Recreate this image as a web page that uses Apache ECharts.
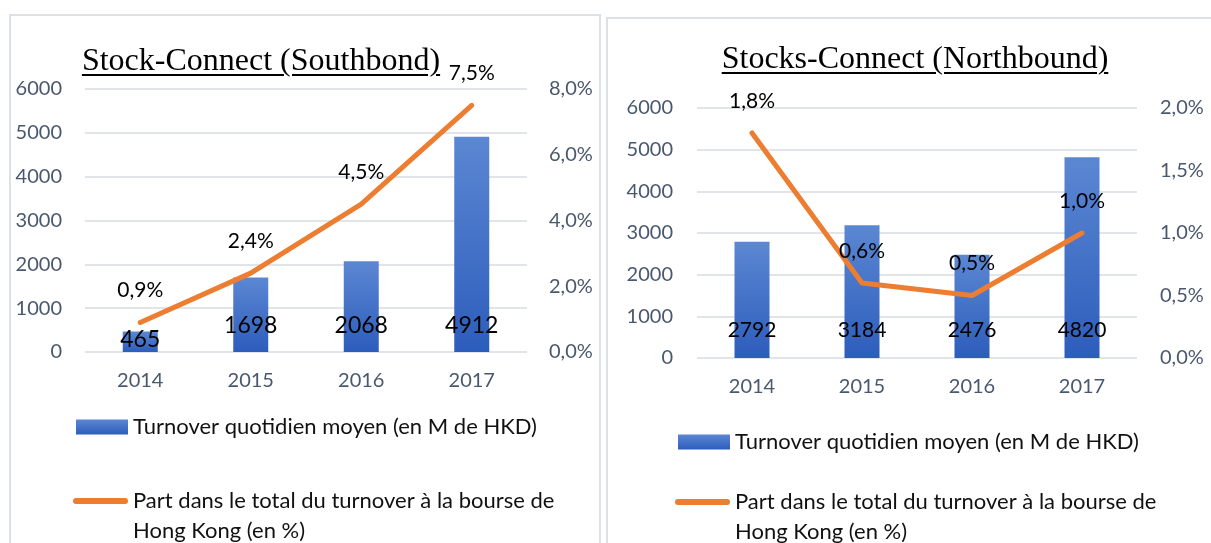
<!DOCTYPE html>
<html>
<head>
<meta charset="utf-8">
<script src="https://cdn.jsdelivr.net/npm/echarts@6/dist/echarts.min.js"></script>
<style>
	html, body { margin: 0; padding: 0; background: #fff; }
	#wrap { position: relative; width: 1211px; height: 543px; overflow: hidden; }
	#chart { position: absolute; left: 0; top: 0; width: 1211px; height: 543px; }
	.ttl {
		position: absolute;
		font-family: 'Liberation Serif', 'Times New Roman', serif;
		font-size: 32px;
		line-height: 32px;
		color: #000;
		text-decoration: underline;
		text-decoration-thickness: 1.5px;
		text-underline-offset: 4px;
		white-space: nowrap;
		transform: translateX(-50%);
	}
</style>
</head>
<body>
<div id="wrap">
	<div id="chart"></div>
	<div class="ttl" id="t1" style="left:261px; top:43px"></div>
	<div class="ttl" id="t2" style="left:915px; top:41px"></div>
</div>
<script>
// données
var years = ['2014', '2015', '2016', '2017'];
var turnoverSouth = [465, 1698, 2068, 4912];
var shareSouth = [0.9, 2.4, 4.5, 7.5];
var turnoverNorth = [2792, 3184, 2476, 4820];
var shareNorth = [1.8, 0.6, 0.5, 1.0];
var titles = ['Stock-Connect (Southbond)', 'Stocks-Connect (Northbound)'];
var barName = 'Turnover quotidien moyen (en M de HKD)';
var lineNameLines = ['Part dans le total du turnover à la bourse de', 'Hong Kong (en %)'];
var lineName = lineNameLines.join(' ');

document.getElementById('t1').textContent = titles[0];
document.getElementById('t2').textContent = titles[1];

var sans = 'Lato';
var tickColor = '#4A586E';
var gridColor = '#E1E4E9';
var orange = '#ED7D31';

function pct(v) {
	return Number(v).toFixed(1).replace('.', ',') + '%';
}

function plain(v) {
	return String(v);
}

function barColor() {
	return new echarts.graphic.LinearGradient(0, 0, 0, 1, [
		{ offset: 0, color: '#5B87D2' },
		{ offset: 1, color: '#2D5DBC' }
	]);
}

function valueAxis(grid, pos, max, interval, fmt, margin, split) {
	return {
		type: 'value',
		gridIndex: grid,
		position: pos,
		min: 0,
		max: max,
		interval: interval,
		axisLine: { show: false },
		axisTick: { show: false },
		splitLine: { show: split, lineStyle: { color: gridColor, width: 2 } },
		axisLabel: {
			formatter: fmt,
			margin: margin,
			color: tickColor,
			fontFamily: sans,
			fontSize: 20
		}
	};
}

function catAxis(grid) {
	return {
		type: 'category',
		gridIndex: grid,
		data: years,
		axisLine: { show: false },
		axisTick: { show: false },
		axisLabel: { margin: 19, color: tickColor, fontFamily: sans, fontSize: 20 }
	};
}

// barres : l'étiquette reste en bas de la barre, plus basse si la barre est petite
function barData(arr) {
	return arr.map(function (v) {
		return v < 1000 ? { value: v, label: { distance: 1 } } : v;
	});
}

function barSeries(grid, yIdx, arr, fontSize, dist) {
	return {
		name: barName,
		type: 'bar',
		xAxisIndex: grid,
		yAxisIndex: yIdx,
		data: barData(arr),
		barWidth: 35,
		itemStyle: { color: barColor() },
		label: {
			show: true,
			position: 'insideBottom',
			distance: dist,
			color: '#000',
			fontFamily: sans,
			fontSize: fontSize
		},
		z: 2
	};
}

function lineSeries(grid, yIdx, arr) {
	return {
		name: lineName,
		type: 'line',
		xAxisIndex: grid,
		yAxisIndex: yIdx,
		data: arr,
		symbol: 'circle',
		symbolSize: 1,
		itemStyle: { color: orange },
		lineStyle: { color: orange, width: 5, cap: 'round', join: 'round' },
		label: {
			show: true,
			position: 'top',
			distance: 21,
			formatter: function (p) { return pct(p.value); },
			color: '#000',
			fontFamily: sans,
			fontSize: 21
		},
		z: 3
	};
}

function barLegend(left, top) {
	return {
		data: [barName],
		left: left,
		top: top,
		orient: 'vertical',
		padding: 0,
		icon: 'rect',
		itemWidth: 52,
		itemHeight: 15,
		selectedMode: false,
		textStyle: { color: '#111', fontFamily: sans, fontSize: 22, lineHeight: 30 }
	};
}

function lineLegend(left, top) {
	return {
		data: [lineName],
		left: left,
		top: top,
		orient: 'vertical',
		padding: 0,
		icon: 'path://M3,0H52A3,3,0,0,1,52,6H3A3,3,0,0,1,3,0Z',
		itemWidth: 55,
		itemHeight: 6,
		selectedMode: false,
		formatter: function () { return '\n' + lineNameLines.join('\n'); },
		textStyle: { color: '#111', fontFamily: sans, fontSize: 22, lineHeight: 30 }
	};
}

var chart = echarts.init(document.getElementById('chart'));
chart.setOption({
	animation: false,
	backgroundColor: '#fff',
	graphic: [
		{ type: 'rect', shape: { x: 10, y: 15, width: 590, height: 545 }, style: { fill: 'none', stroke: '#DCE0E7', lineWidth: 2 }, z: -1 },
		{ type: 'rect', shape: { x: 607, y: 18, width: 620, height: 545 }, style: { fill: 'none', stroke: '#DCE0E7', lineWidth: 2 }, z: -1 }
	],
	grid: [
		{ left: 85, right: 684, top: 89, bottom: 191 },
		{ left: 697, right: 74, top: 108, bottom: 185 }
	],
	xAxis: [catAxis(0), catAxis(1)],
	yAxis: [
		valueAxis(0, 'left', 6000, 1000, plain, 23, true),
		valueAxis(0, 'right', 8, 2, pct, 22, false),
		valueAxis(1, 'left', 6000, 1000, plain, 24, true),
		valueAxis(1, 'right', 2, 0.5, pct, 23, false)
	],
	legend: [
		barLegend(76, 412),
		lineLegend(73, 456),
		barLegend(678, 427),
		lineLegend(675, 457)
	],
	series: [
		barSeries(0, 0, turnoverSouth, 23, 15),
		lineSeries(0, 1, shareSouth),
		barSeries(1, 2, turnoverNorth, 21, 17),
		lineSeries(1, 3, shareNorth)
	]
});
</script>
</body>
</html>
